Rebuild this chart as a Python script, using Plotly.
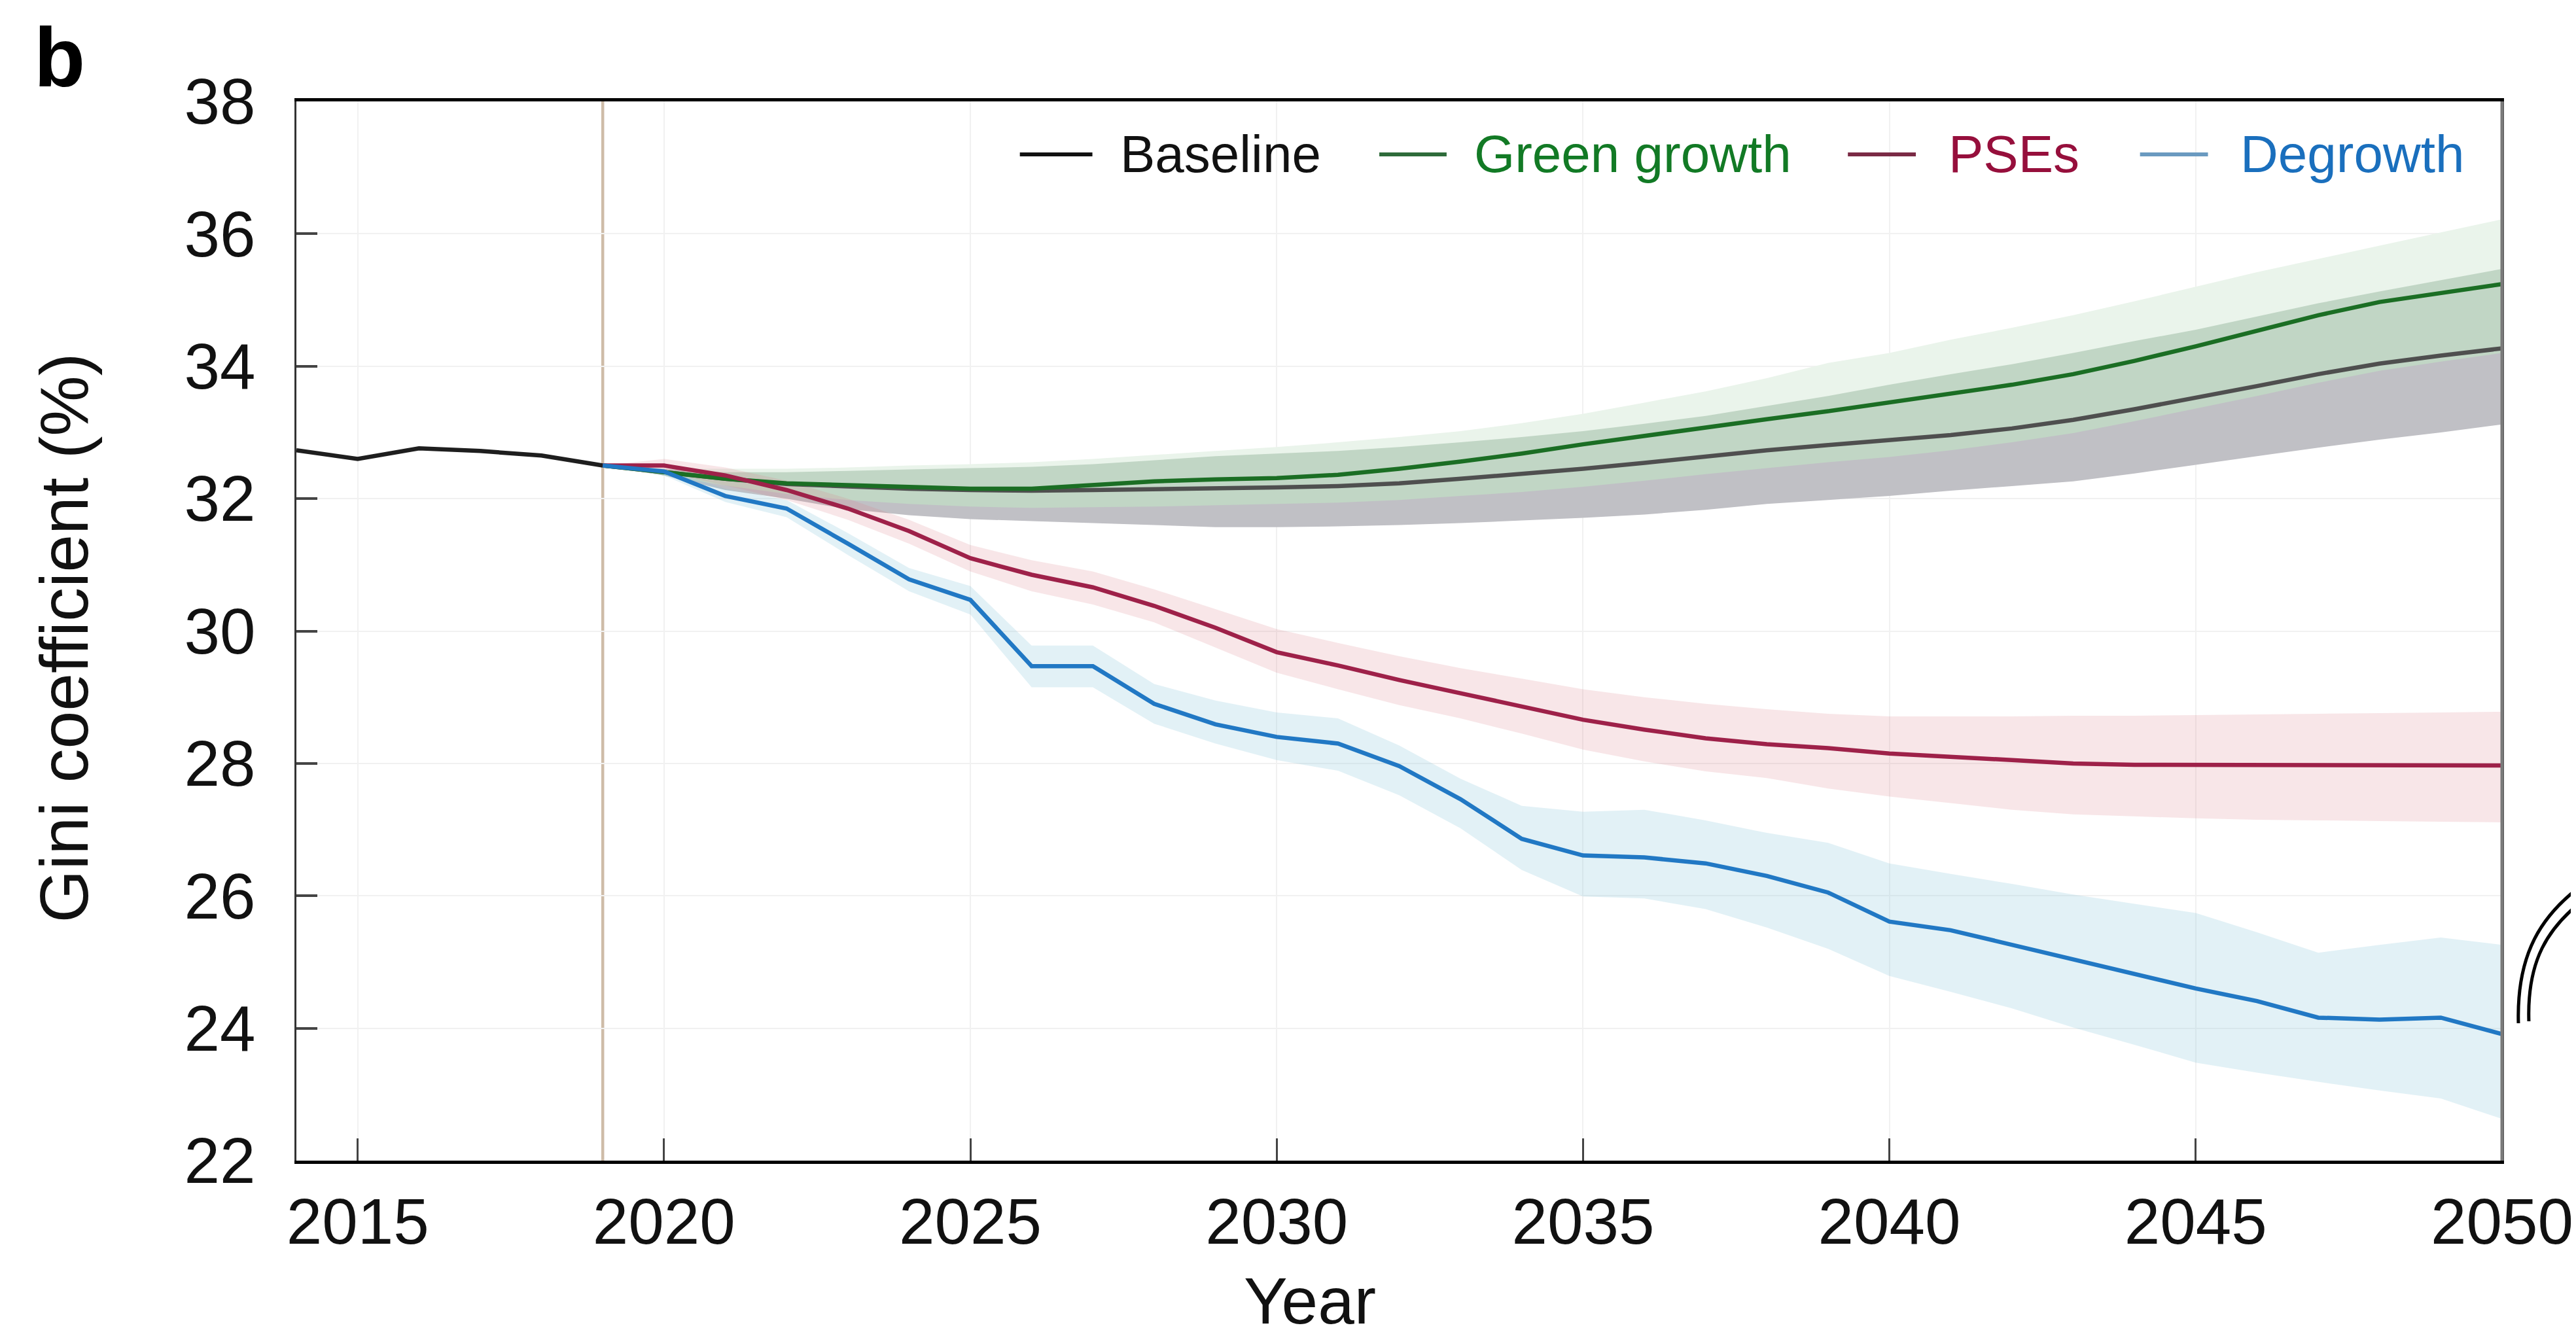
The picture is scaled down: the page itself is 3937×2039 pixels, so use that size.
import plotly.graph_objects as go

# ---------------- data ----------------
years_hist = [2014, 2015, 2016, 2017, 2018, 2019]
gini_hist = [32.73, 32.60, 32.76, 32.72, 32.65, 32.50]

years = list(range(2019, 2051))

baseline = [32.50, 32.40, 32.30, 32.22, 32.18, 32.15, 32.13, 32.12, 32.13, 32.14,
            32.15, 32.17, 32.19, 32.23, 32.30, 32.37, 32.45, 32.54, 32.64, 32.73,
            32.81, 32.88, 32.96, 33.06, 33.19, 33.35, 33.52, 33.70, 33.88, 34.04,
            34.16, 34.27]
baseline_lo = [32.50, 32.35, 32.13, 32.00, 31.84, 31.75, 31.69, 31.66, 31.63, 31.60,
               31.57, 31.57, 31.58, 31.60, 31.63, 31.67, 31.71, 31.76, 31.83, 31.92,
               31.98, 32.04, 32.12, 32.19, 32.26, 32.38, 32.51, 32.64, 32.77, 32.89,
               33.00, 33.12]
baseline_hi = [32.50, 32.45, 32.38, 32.32, 32.28, 32.26, 32.24, 32.23, 32.24, 32.25,
               32.26, 32.28, 32.30, 32.34, 32.41, 32.48, 32.56, 32.65, 32.75, 32.84,
               32.92, 32.99, 33.07, 33.17, 33.30, 33.46, 33.63, 33.81, 33.99, 34.15,
               34.27, 34.38]

green = [32.50, 32.40, 32.30, 32.23, 32.20, 32.17, 32.15, 32.15, 32.20, 32.26,
         32.29, 32.31, 32.36, 32.45, 32.56, 32.68, 32.82, 32.95, 33.07, 33.20,
         33.32, 33.45, 33.58, 33.72, 33.88, 34.08, 34.30, 34.53, 34.77, 34.97,
         35.11, 35.24]
green_lo = [32.50, 32.35, 32.20, 32.07, 31.98, 31.92, 31.88, 31.86, 31.87, 31.88,
            31.90, 31.92, 31.94, 31.98, 32.04, 32.10, 32.18, 32.27, 32.37, 32.46,
            32.55, 32.63, 32.73, 32.85, 32.99, 33.17, 33.36, 33.55, 33.75, 33.93,
            34.07, 34.20]
green_hi = [32.50, 32.42, 32.40, 32.40, 32.42, 32.44, 32.46, 32.48, 32.52, 32.58,
            32.64, 32.68, 32.72, 32.78, 32.85, 32.93, 33.02, 33.13, 33.25, 33.40,
            33.55, 33.72, 33.88, 34.03, 34.20, 34.38, 34.55, 34.75, 34.95, 35.13,
            35.30, 35.47]
green_hi_outer = [32.50, 32.45, 32.45, 32.45, 32.47, 32.50, 32.52, 32.55, 32.60, 32.66,
                  32.72, 32.78, 32.85, 32.93, 33.02, 33.14, 33.28, 33.45, 33.62, 33.82,
                  34.05, 34.20, 34.40, 34.58, 34.77, 34.98, 35.20, 35.42, 35.62, 35.82,
                  36.02, 36.22]

pses = [32.50, 32.50, 32.35, 32.13, 31.85, 31.51, 31.10, 30.85, 30.66, 30.38,
        30.05, 29.68, 29.48, 29.26, 29.06, 28.86, 28.66, 28.51, 28.38, 28.29,
        28.23, 28.15, 28.10, 28.04, 28.00, 27.98, 27.98, 27.98, 27.98, 27.97,
        27.97, 27.97]
pses_hi = [32.50, 32.60, 32.47, 32.27, 32.00, 31.68, 31.30, 31.07, 30.90, 30.63,
           30.33, 30.03, 29.82, 29.62, 29.44, 29.28, 29.12, 29.00, 28.90, 28.82,
           28.75, 28.71, 28.71, 28.71, 28.72, 28.72, 28.73, 28.74, 28.75, 28.76,
           28.77, 28.78]
pses_lo = [32.50, 32.40, 32.20, 31.98, 31.68, 31.32, 30.90, 30.60, 30.40, 30.13,
           29.75, 29.37, 29.12, 28.88, 28.68, 28.45, 28.21, 28.03, 27.88, 27.78,
           27.62, 27.50, 27.40, 27.30, 27.23, 27.20, 27.17, 27.15, 27.14, 27.13,
           27.12, 27.11]

degrowth = [32.50, 32.41, 32.04, 31.85, 31.32, 30.78, 30.47, 29.47, 29.47, 28.90,
            28.59, 28.40, 28.30, 27.96, 27.46, 26.86, 26.61, 26.58, 26.49, 26.30,
            26.05, 25.61, 25.48, 25.26, 25.04, 24.82, 24.60, 24.41, 24.16, 24.13,
            24.16, 23.91]
degrowth_hi = [32.50, 32.45, 32.15, 31.98, 31.48, 30.95, 30.68, 29.78, 29.78, 29.20,
               28.95, 28.77, 28.68, 28.27, 27.77, 27.36, 27.27, 27.30, 27.14, 26.95,
               26.80, 26.49, 26.33, 26.18, 26.02, 25.88, 25.74, 25.45, 25.14, 25.26,
               25.37, 25.26]
degrowth_lo = [32.50, 32.35, 31.95, 31.72, 31.15, 30.60, 30.25, 29.15, 29.15, 28.60,
               28.30, 28.05, 27.89, 27.52, 27.02, 26.39, 25.99, 25.96, 25.80, 25.52,
               25.20, 24.79, 24.55, 24.30, 24.01, 23.75, 23.48, 23.33, 23.19, 23.06,
               22.94, 22.63]

legend_names = ["Baseline", "Green growth", "PSEs", "Degrowth"]
x_ticks = [2015, 2020, 2025, 2030, 2035, 2040, 2045, 2050]
y_ticks = [22, 24, 26, 28, 30, 32, 34, 36, 38]
marker_year = 2019

# ---------------- styling ----------------
W, H = 3937, 2039
L, R, T, B = 445, 3820, 147, 1766  # plot area in pixels
FONT = "Liberation Sans, Arial, Helvetica, sans-serif"


def px(xp):
    return (xp - L) / (R - L)


def py(yp):
    return (B - yp) / (B - T)


def band(x, lo, hi, color, name):
    return go.Scatter(x=list(x) + list(x)[::-1], y=list(hi) + list(lo)[::-1],
                      fill="toself", fillcolor=color, mode="none",
                      line=dict(width=0), hoverinfo="skip", showlegend=False, name=name)


fig = go.Figure()

# bands
fig.add_trace(band(years, green_lo, green_hi_outer, "rgba(234,244,235,1)", "Green growth outer"))
fig.add_trace(band(years, baseline_lo, baseline_hi, "rgba(192,192,197,1)", "Baseline band"))
fig.add_trace(band(years, green_lo, green_hi, "rgba(193,214,197,1)", "Green growth band"))
fig.add_trace(band(years, pses_lo, pses_hi, "rgba(220,130,140,0.2)", "PSEs band"))
fig.add_trace(band(years, degrowth_lo, degrowth_hi, "rgba(140,200,220,0.25)", "Degrowth band"))

# lines
LW = 6.5
fig.add_trace(go.Scatter(x=years_hist, y=gini_hist, mode="lines",
                         line=dict(color="#1e1e1e", width=LW), showlegend=False))
fig.add_trace(go.Scatter(x=years, y=baseline, mode="lines", name="Baseline",
                         line=dict(color="#4f4f4f", width=LW), showlegend=False))
fig.add_trace(go.Scatter(x=years, y=green, mode="lines", name="Green growth",
                         line=dict(color="#1b6e24", width=LW), showlegend=False))
fig.add_trace(go.Scatter(x=years, y=pses, mode="lines", name="PSEs",
                         line=dict(color="#9e2149", width=LW), showlegend=False))
fig.add_trace(go.Scatter(x=years, y=degrowth, mode="lines", name="Degrowth",
                         line=dict(color="#2178c4", width=LW), showlegend=False))

shapes = []
# vertical marker at 2019
shapes.append(dict(type="line", xref="x", yref="paper", x0=marker_year, x1=marker_year,
                   y0=0, y1=1, line=dict(color="rgb(206,188,168)", width=4.5), layer="below"))
# right frame line (grey)
shapes.append(dict(type="line", xref="paper", yref="paper", x0=1, x1=1, y0=0, y1=1,
                   line=dict(color="#7a7a7a", width=5)))

# manual legend
leg_line_colors = ["#111111", "#2e6b3a", "#7a2a45", "#6a9ac0"]
leg_text_colors = ["#111111", "#127a25", "#960f3c", "#1a6fbd"]
leg_line_x = [(1552, 1663), (2102, 2205), (2819, 2923), (3266, 3370)]
leg_text_x = [1703, 2245, 2971, 3418]
leg_y = 228
annotations = []
for name, lc, tc, (a, b), tx in zip(legend_names, leg_line_colors, leg_text_colors,
                                     leg_line_x, leg_text_x):
    shapes.append(dict(type="line", xref="paper", yref="paper", x0=px(a), x1=px(b),
                       y0=py(leg_y), y1=py(leg_y), line=dict(color=lc, width=6)))
    annotations.append(dict(text=name, xref="paper", yref="paper", x=px(tx), y=py(leg_y),
                            xanchor="left", yanchor="middle", showarrow=False,
                            font=dict(family=FONT, size=80, color=tc)))

# decorative curves at right edge (part of neighbouring panel)
def path(points):
    (x0, y0), (c1x, c1y), (c2x, c2y), (x1, y1) = points
    return (f"M {px(x0)},{py(y0)} C {px(c1x)},{py(c1y)} {px(c2x)},{py(c2y)} "
            f"{px(x1)},{py(y1)}")

shapes.append(dict(type="path", xref="paper", yref="paper",
                   path=path([(3845, 1556), (3842, 1450), (3880, 1390), (3945, 1343)]),
                   line=dict(color="black", width=5)))
shapes.append(dict(type="path", xref="paper", yref="paper",
                   path=path([(3861, 1553), (3858, 1460), (3890, 1410), (3945, 1367)]),
                   line=dict(color="black", width=5)))

# axis titles and panel label
annotations.append(dict(text="Gini coefficient (%)", xref="paper", yref="paper",
                        x=px(90), y=py(967), xanchor="center", yanchor="middle",
                        textangle=-90, showarrow=False,
                        font=dict(family=FONT, size=104, color="#111111")))
annotations.append(dict(text="Year", xref="paper", yref="paper",
                        x=px(1996), y=py(2038), xanchor="center", yanchor="bottom",
                        showarrow=False, font=dict(family=FONT, size=100, color="#111111")))
annotations.append(dict(text="<b>b</b>", xref="paper", yref="paper",
                        x=px(42), y=py(80), xanchor="left", yanchor="middle",
                        showarrow=False, font=dict(family=FONT, size=128, color="#000000")))

fig.update_layout(
    width=W, height=H,
    margin=dict(l=L, r=W - R, t=T, b=H - B),
    paper_bgcolor="white", plot_bgcolor="white",
    shapes=shapes, annotations=annotations,
    showlegend=False, hovermode=False,
    font=dict(family=FONT, color="#111111"),
)
fig.update_xaxes(range=[2014, 2050], tickvals=x_ticks, ticktext=[str(v) for v in x_ticks],
                 showgrid=True, gridcolor="#f1f1f1", gridwidth=2, zeroline=False,
                 showline=True, linecolor="black", linewidth=5, mirror=True,
                 ticks="inside", ticklen=34, tickwidth=3, tickcolor="#444444",
                 tickfont=dict(family=FONT, size=98, color="#111111"),
                 ticklabelstandoff=4)
fig.update_yaxes(range=[22, 38], tickvals=y_ticks, ticktext=[str(v) for v in y_ticks],
                 showgrid=True, gridcolor="#f1f1f1", gridwidth=2, zeroline=False,
                 showline=True, linecolor="#333333", linewidth=3, mirror=True,
                 ticks="inside", ticklen=32, tickwidth=4, tickcolor="#444444",
                 tickfont=dict(family=FONT, size=98, color="#111111"),
                 ticklabelstandoff=40)

fig.write_html("out.html")
